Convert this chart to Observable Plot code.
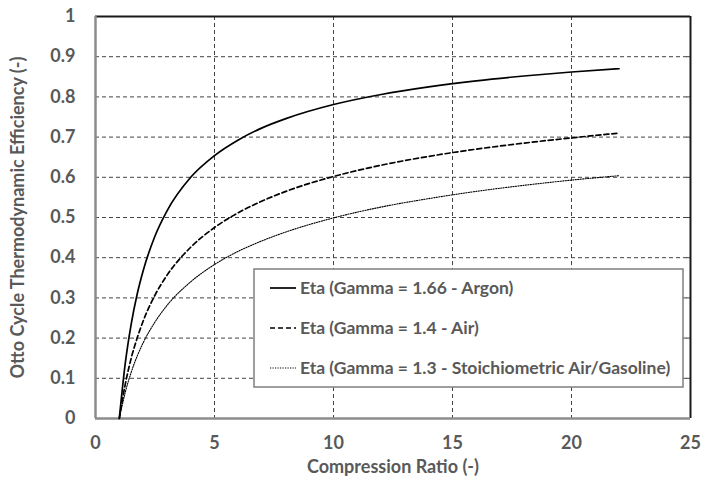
<!DOCTYPE html>
<html>
<head>
<meta charset="utf-8">
<script src="https://cdn.jsdelivr.net/npm/d3@7"></script>
<script src="https://cdn.jsdelivr.net/npm/@observablehq/plot@0.6"></script>
<style>
  html, body { margin: 0; padding: 0; background: #fff; }
  #chart { width: 702px; height: 479px; }
</style>
</head>
<body>
<div id="chart"></div>
<script>
// Compression ratios sampled along each curve
const ratio = [1, 1.25, 1.5, 1.75, 2, 2.5, 3, 4, 5, 6, 7, 8, 10, 12, 14, 16, 18, 20, 22];
// Thermal efficiency for each working gas
const etaArgon = [0, 0.137, 0.235, 0.309, 0.367, 0.454, 0.516, 0.600, 0.654, 0.693, 0.723, 0.746, 0.781, 0.806, 0.825, 0.840, 0.852, 0.862, 0.870];
const etaAir = [0, 0.085, 0.150, 0.200, 0.242, 0.307, 0.356, 0.426, 0.475, 0.512, 0.541, 0.565, 0.602, 0.630, 0.652, 0.670, 0.685, 0.698, 0.710];
const etaMix = [0, 0.065, 0.115, 0.155, 0.188, 0.240, 0.281, 0.340, 0.383, 0.416, 0.442, 0.464, 0.499, 0.526, 0.547, 0.565, 0.580, 0.593, 0.604];
const seriesNames = [
  "Eta (Gamma = 1.66 - Argon)",
  "Eta (Gamma = 1.4 - Air)",
  "Eta (Gamma = 1.3 - Stoichiometric Air/Gasoline)"
];
const xTicks = [0, 5, 10, 15, 20, 25];
const yTicks = [0, 0.1, 0.2, 0.3, 0.4, 0.5, 0.6, 0.7, 0.8, 0.9, 1];

const seriesValues = [etaArgon, etaAir, etaMix];
const lineStyles = [
  { dash: null, width: 1.7 },
  { dash: "5,3", width: 1.7 },
  { dash: "1.2,1.3", width: 1.1 }
];
const rows = seriesValues.map((vals, i) => ratio.map((r, j) => ({ r, eta: vals[j], s: seriesNames[i] })));

const textColor = "#595959";
const font = "Lato, 'Open Sans', sans-serif";
const fmt = d => String(+d.toFixed(1));

const W = 702, H = 479;
const mL = 95, mR = 12, mT = 16, mB = 61;

const innerY = yTicks.filter(d => d > 0 && d < 1);
const innerX = xTicks.filter(d => d > 0 && d < 25);

const plot = Plot.plot({
  width: W,
  height: H,
  marginLeft: mL,
  marginRight: mR,
  marginTop: mT,
  marginBottom: mB,
  style: { fontFamily: font, fontWeight: "bold", color: textColor, background: "#fff", overflow: "visible" },
  x: { type: "linear", domain: [0, 25] },
  y: { type: "linear", domain: [0, 1] },
  marks: [
    Plot.gridY(innerY, { stroke: "#444", strokeOpacity: 1, strokeWidth: 1, strokeDasharray: "4,3" }),
    Plot.gridX(innerX, { stroke: "#444", strokeOpacity: 1, strokeWidth: 1, strokeDasharray: "4,3" }),
    // inward tick marks on the right frame
    Plot.ruleY(innerY, { x1: 24.85, x2: 25, stroke: "#444", strokeWidth: 1 }),
    // plot-area borders: gray axes at left/bottom, black frame at top/right
    Plot.ruleY([1], { stroke: "#1a1a1a", strokeWidth: 2 }),
    Plot.ruleX([25], { stroke: "#1a1a1a", strokeWidth: 2 }),
    Plot.ruleX([0], { stroke: "#8c8c8c", strokeWidth: 2.5 }),
    Plot.ruleY([0], { stroke: "#8c8c8c", strokeWidth: 2.5 }),
    ...rows.map((data, i) => Plot.line(data, {
      x: "r", y: "eta", curve: "monotone-x",
      stroke: "#000", strokeWidth: lineStyles[i].width,
      strokeDasharray: lineStyles[i].dash
    })),
    Plot.axisX(xTicks, {
      tickSize: 0, tickPadding: 18, fontSize: 18, fill: textColor, tickFormat: fmt,
      label: "Compression Ratio (-)", labelAnchor: "center", labelArrow: "none", labelOffset: 54
    }),
    Plot.axisY(yTicks, {
      tickSize: 0, tickPadding: 20, fontSize: 18, fill: textColor, tickFormat: fmt,
      label: "Otto Cycle Thermodynamic Efficiency (-)", labelAnchor: "center", labelArrow: "none", labelOffset: 84
    })
  ]
});

document.getElementById("chart").appendChild(plot);

// Legend box drawn inside the plot area
const svg = d3.select(plot);
const lg = svg.append("g").attr("class", "legend").attr("text-anchor", "start");
const box = { x: 254, y: 269, w: 429, h: 118 };
lg.append("rect")
  .attr("x", box.x).attr("y", box.y).attr("width", box.w).attr("height", box.h)
  .attr("fill", "#fff").attr("stroke", "#7f7f7f").attr("stroke-width", 1.5);
seriesNames.forEach((name, i) => {
  const cy = box.y + 19 + i * 40;
  lg.append("line")
    .attr("x1", box.x + 16).attr("x2", box.x + 42).attr("y1", cy).attr("y2", cy)
    .attr("stroke", "#000").attr("stroke-width", lineStyles[i].width)
    .attr("stroke-dasharray", lineStyles[i].dash);
  lg.append("text")
    .attr("x", box.x + 46).attr("y", cy).attr("dy", "0.35em")
    .attr("text-anchor", "start")
    .attr("fill", textColor).attr("font-size", 17.5).attr("font-weight", "bold")
    .attr("font-family", font)
    .text(name);
});
</script>
</body>
</html>
